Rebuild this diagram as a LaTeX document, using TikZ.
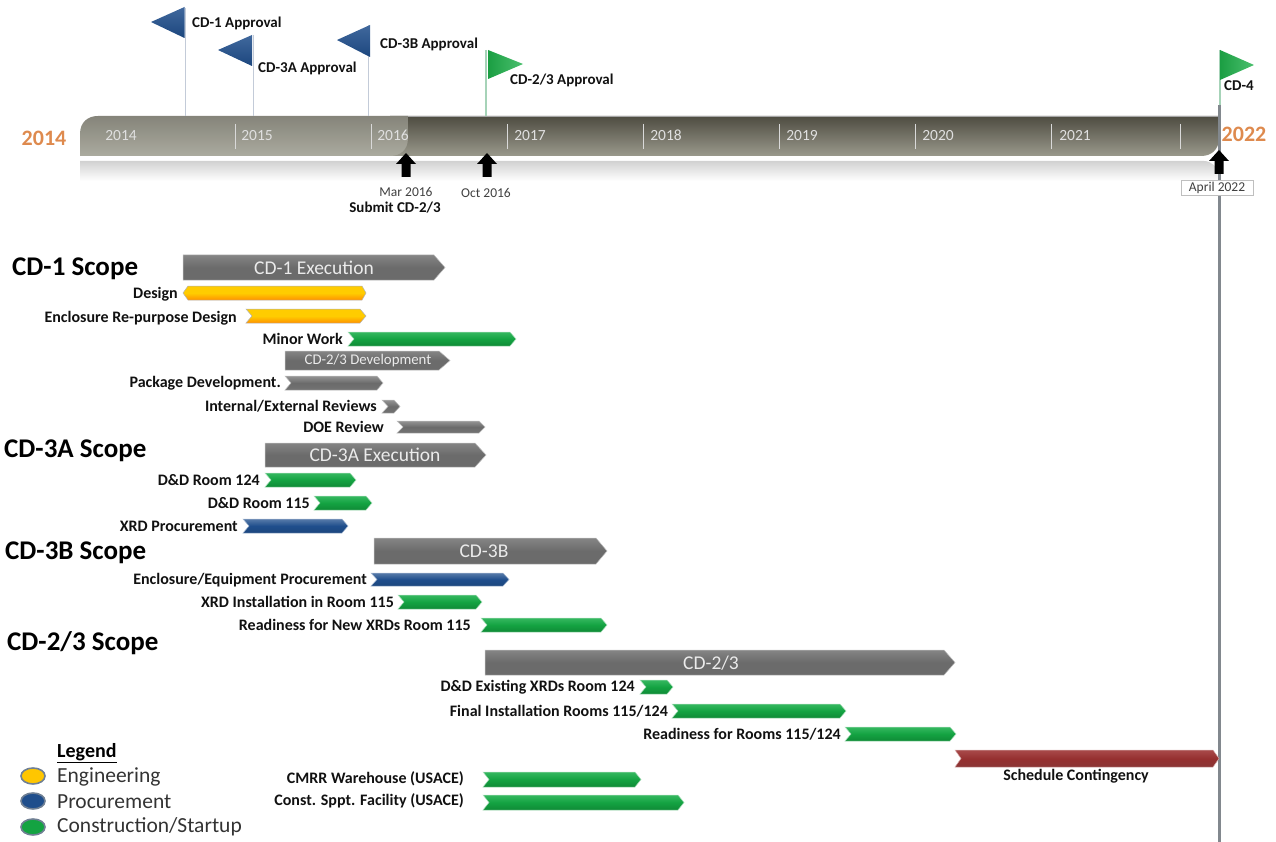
\documentclass[tikz,border=0pt]{standalone}
\usepackage{fontspec}
\setmainfont{Carlito}
\definecolor{tlA}{HTML}{85847A}
\definecolor{tlB}{HTML}{ABAB9F}
\definecolor{tlC}{HTML}{4E4C41}
\definecolor{tlD}{HTML}{9A998C}
\definecolor{flagblue}{HTML}{1F4E8C}
\definecolor{flaggreen}{HTML}{1EB04A}
\definecolor{polecol}{HTML}{C3CBD8}
\definecolor{orangeyr}{HTML}{DE8A4E}
\definecolor{txt}{HTML}{111111}
\definecolor{grT}{HTML}{35B860}
\definecolor{grM}{HTML}{14A342}
\definecolor{grB}{HTML}{0F8A36}
\definecolor{rdT}{HTML}{A84A4A}
\definecolor{rdM}{HTML}{963030}
\definecolor{rdB}{HTML}{8A3535}
\definecolor{longline}{HTML}{82888E}
\tikzset{
  x=1pt,y=-1pt,
  gbar/.style={top color=black!42!white,bottom color=black!55!white,middle color=black!58!white,draw=black!25!white,line width=.5pt},
  flatbar/.style={top color=black!48!white,bottom color=black!58!white,middle color=black!58!white,draw=black!25!white,line width=.5pt},
  ybar/.style={top color=yellow!60!orange,bottom color=orange!85!yellow,middle color=orange!40!yellow,draw=black!30!white,line width=.5pt},
  grbar/.style={top color=grT,bottom color=grB,middle color=grM,draw=grM!35!white,line width=.5pt},
  blbar/.style={top color=flagblue!75!white,bottom color=flagblue!90!black,middle color=flagblue,draw=flagblue!40!white,line width=.5pt},
  rdbar/.style={top color=rdT,bottom color=rdB,middle color=rdM,draw=rdM!40!white,line width=.5pt},
  lab/.style={font=\bfseries\fontsize{16}{18}\selectfont,text=txt,inner sep=0pt,anchor=east},
  flaglab/.style={font=\bfseries\fontsize{15}{17}\selectfont,text=txt,inner sep=0pt,anchor=west},
  scope/.style={font=\bfseries\fontsize{27}{30}\selectfont,text=black,inner sep=0pt,anchor=west},
  barlab/.style={font=\fontsize{#1}{#1}\selectfont,text=white!92!black,inner sep=0pt},
  yr/.style={font=\fontsize{15.5}{17}\selectfont,text=white!88!black,inner sep=0pt,anchor=base},
  bigyr/.style={font=\bfseries\fontsize{22}{24}\selectfont,text=orangeyr,inner sep=0pt},
  tick/.style={white!70!gray,line width=.7pt},
  pole/.style={polecol,line width=1.4pt},
  leg/.style={font=\fontsize{21.5}{24}\selectfont,text=black!80,inner sep=0pt,anchor=west},
  legdot/.style={draw=black!45!flagblue!60!white,line width=1.6pt},
  datelab/.style={font=\fontsize{13.5}{15}\selectfont,text=black!75,inner sep=0pt},
}
% notched chevron: style, x1, x2, y1, y2
\newcommand{\notched}[5]{\path[#1] (#2,#4) -- (#3-6,#4) -- (#3,{(#4+#5)/2}) -- (#3-6,#5) -- (#2,#5) -- (#2+6,{(#4+#5)/2}) -- cycle;}
% flat-left chevron
\newcommand{\flatc}[5]{\path[#1] (#2,#4) -- (#3-11,#4) -- (#3,{(#4+#5)/2}) -- (#3-11,#5) -- (#2,#5) -- cycle;}
\newcommand{\blockarrow}[2]{\fill[black] (#1-4.5,#2+24) -- (#1+4.5,#2+24) -- (#1+4.5,#2+11) -- (#1+10,#2+11) -- (#1,#2) -- (#1-10,#2+11) -- (#1-4.5,#2+11) -- cycle;}
\begin{document}
\begin{tikzpicture}
\useasboundingbox (0,0) rectangle (1276,842);
% reflection
\shade[top color=black!18,bottom color=white] (80,161) -- (1204,161) .. controls (1212,161) and (1217,168) .. (1219,172) -- (1219,181) -- (80,181) -- cycle;
% timeline
\path[top color=tlC,bottom color=tlD] (390,116) -- (1219,116) -- (1219,138) .. controls (1219,150) and (1211,156) .. (1201,156) -- (390,156) -- cycle;
\draw[black!35,line width=.8pt] (98,116) -- (1219,116);
\path[top color=tlA,bottom color=tlB] (98,116) -- (408,116) -- (408,138) .. controls (408,150) and (400,156) .. (390,156) -- (80,156) -- (80,134) .. controls (80,122) and (88,116) .. (98,116) -- cycle;
\foreach \tx in {235,371,507,643,779,915,1051,1180}{\draw[tick] (\tx,124) -- (\tx,149);}
\node[yr] (y14) at (121,141) {2014};
\node[yr] (y15) at (257,141) {2015};
\node[yr] (y16) at (393,141) {2016};
\node[yr] (y17) at (530,141) {2017};
\node[yr] (y18) at (666,141) {2018};
\node[yr] (y19) at (802,141) {2019};
\node[yr] (y20) at (938,141) {2020};
\node[yr] (y21) at (1075,141) {2021};
\node[bigyr] (b14) at (44,138) {2014};
\node[bigyr] (b22) at (1244,134) {2022};
% flag poles
\draw[pole] (185.5,8) -- (185.5,116);
\draw[pole] (253.5,35) -- (253.5,116);
\draw[pole] (368.5,25) -- (368.5,116);
\draw[green!15!polecol,line width=1.2pt] (486,50) -- (486,116);
% long vertical
\draw[longline,line width=3pt] (1219,105) -- (1219,842);
\draw[green!15!polecol,line width=1.4pt] (1220,50) -- (1220,105);
% flags
\path[top color=flagblue!85!white,bottom color=flagblue!90!black] (184.5,7) -- (151,22) -- (184.5,38) -- cycle;
\path[top color=flagblue!85!white,bottom color=flagblue!90!black] (252,35) -- (218,50) -- (252,66) -- cycle;
\path[top color=flagblue!85!white,bottom color=flagblue!90!black] (370,25) -- (337,40) -- (370,57) -- cycle;
\path[left color=flaggreen!90!black,right color=flaggreen!80!white] (488,50) -- (523,64) -- (488,79) -- cycle;
\path[left color=flaggreen!90!black,right color=flaggreen!80!white] (1220,50) -- (1254,65) -- (1220,80) -- cycle;
\node[flaglab] (f1) at (192,23) {CD-1 Approval};
\node[flaglab] (f2) at (258,68) {CD-3A Approval};
\node[flaglab] (f3) at (380,44) {CD-3B Approval};
\node[flaglab] (f4) at (510,80) {CD-2/3 Approval};
\node[flaglab] (f5) at (1224,86) {CD-4};
% arrows
\blockarrow{406}{153}
\blockarrow{487}{153}
\blockarrow{1219}{150}
\node[datelab] (d1) at (406,192) {Mar 2016};
\node[datelab] (d2) at (486,193) {Oct 2016};
\node[font=\bfseries\fontsize{15}{17}\selectfont,text=txt,inner sep=0pt] (d3) at (395,208) {Submit CD-2/3};
\node[datelab,draw=black!25,fill=white,minimum width=72pt,minimum height=15pt] (d4) at (1217,188) {April 2022};
% scope heads
\node[scope] (s1) at (12,269) {CD-1 Scope};
\node[scope] (s2) at (4,451) {CD-3A Scope};
\node[scope] (s3) at (5,553) {CD-3B Scope};
\node[scope] (s4) at (7,643) {CD-2/3 Scope};
% bars
\flatc{flatbar}{183}{445}{255}{280}
\node[barlab=19.5] (t1) at (314,268) {CD-1 Execution};
\path[ybar] (183,293) -- (188,286) -- (362,286) -- (366,293) -- (362,300) -- (188,300) -- cycle;
\node[lab] (l1) at (178,294) {Design};
\notched{ybar}{246}{366}{309}{323}
\node[lab] (l2) at (237,318) {Enclosure Re-purpose Design};
\notched{grbar}{348}{516}{332}{346}
\node[lab] (l3) at (343,339) {Minor Work};
\flatc{flatbar}{285}{450}{351}{370}
\node[barlab=14.8] (t2) at (368,361) {CD-2/3 Development};
\notched{gbar}{285}{383}{376}{390}
\node[lab] (l4) at (281,383) {Package Development.};
\notched{gbar}{382}{400}{400}{413}
\node[lab] (l5) at (377,406) {Internal/External Reviews};
\notched{gbar}{397}{485}{421}{433}
\node[lab] (l6) at (384,427) {DOE Review};
\flatc{flatbar}{265}{486}{443}{467}
\node[barlab=19.5] (t3) at (375,455) {CD-3A Execution};
\notched{grbar}{265}{356}{473}{487}
\node[lab] (l7) at (260,480) {D\&D Room 124};
\notched{grbar}{314}{372}{496}{510}
\node[lab] (l8) at (310,503) {D\&D Room 115};
\notched{blbar}{243}{348}{519}{533}
\node[lab] (l9) at (238,526) {XRD Procurement};
\flatc{flatbar}{374}{607}{538}{564}
\node[barlab=19.5] (t4) at (484,551) {CD-3B};
\notched{blbar}{371}{509}{573}{586}
\node[lab] (l10) at (367,580) {Enclosure/Equipment  Procurement};
\notched{grbar}{398}{482}{595}{609}
\node[lab] (l11) at (394,602) {XRD Installation in Room 115};
\notched{grbar}{481}{607}{618}{632}
\node[lab] (l12) at (471,625) {Readiness for New XRDs Room 115};
\flatc{flatbar}{485}{955}{650}{675}
\node[barlab=19.5] (t5) at (711,663) {CD-2/3};
\notched{grbar}{640}{673}{680}{694}
\node[lab] (l13) at (635,687) {D\&D Existing XRDs Room 124};
\notched{grbar}{672}{846}{704}{718}
\node[lab] (l14) at (668,711) {Final  Installation Rooms 115/124};
\notched{grbar}{845}{956}{727}{741}
\node[lab] (l15) at (841,734) {Readiness for Rooms 115/124};
\notched{rdbar}{955}{1219}{750}{767}
\node[lab,anchor=center] (l16) at (1076,776) {Schedule Contingency};
\notched{grbar}{483}{641}{772}{787}
\node[lab] (l17) at (464,779) {CMRR Warehouse (USACE)};
\notched{grbar}{483}{684}{795}{810}
\node[lab] (l18) at (464,801) {Const. Sppt. Facility (USACE)};
% legend
\node[leg,font=\bfseries\fontsize{20}{22}\selectfont,text=black] (lg) at (57,753) {\underline{Legend}};
\draw[legdot,fill=orange!45!yellow] (33,776) ellipse[x radius=12,y radius=8];
\draw[legdot,fill=flagblue] (33,801) ellipse[x radius=12,y radius=8];
\draw[legdot,fill=grM] (33,827) ellipse[x radius=12,y radius=8];
\node[leg] (lg1) at (57,777) {Engineering};
\node[leg] (lg2) at (57,802) {Procurement};
\node[leg] (lg3) at (57,827) {Construction/Startup};
\end{tikzpicture}
\end{document}
